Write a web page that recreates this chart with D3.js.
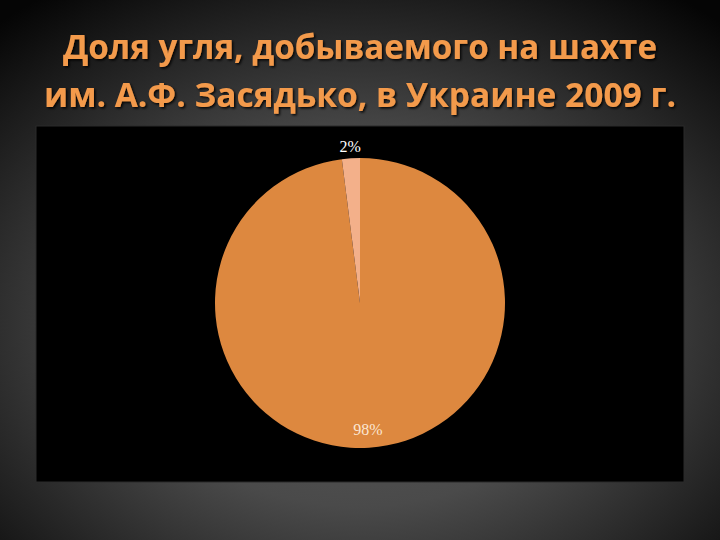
<!DOCTYPE html>
<html lang="ru">
  <head>
    <meta charset="UTF-8" />
    <title>Доля угля</title>
    <script src="https://d3js.org/d3.v7.min.js"></script>
    <style>
      body { margin: 0; background: #000; }
      svg { display: block; }
    </style>
  </head>
  <body>
    <div id="chart"></div>
    <script>
      // data
      const titleLines = [
        "Доля угля, добываемого на шахте",
        "им. А.Ф. Засядько, в Украине 2009 г.",
      ];
      const categories = ["Прочие шахты Украины", "Шахта им. А.Ф. Засядько"];
      const values = [98, 2];
      const colors = ["#dd883f", "#f3b08a"];

      const width = 720, height = 540;
      const svg = d3.select("#chart").append("svg")
        .attr("width", width).attr("height", height);

      const defs = svg.append("defs");
      const bg = defs.append("radialGradient")
        .attr("id", "bg").attr("cx", "50%").attr("cy", "60%").attr("r", "75%");
      bg.append("stop").attr("offset", "0%").attr("stop-color", "#5c5c5c");
      bg.append("stop").attr("offset", "45%").attr("stop-color", "#4a4a4a");
      bg.append("stop").attr("offset", "100%").attr("stop-color", "#050505");

      const shadow = defs.append("filter").attr("id", "shadow")
        .attr("x", "-5%").attr("y", "-20%").attr("width", "110%").attr("height", "140%");
      shadow.append("feDropShadow")
        .attr("dx", 1.5).attr("dy", 1.5).attr("stdDeviation", 1)
        .attr("flood-color", "#000").attr("flood-opacity", 0.9);

      svg.append("rect").attr("width", width).attr("height", height).attr("fill", "url(#bg)");

      // title: narrow font look, stretched a bit vertically
      const titleWidths = [594, 632];
      const titleBase = [59, 107];
      const sy = 1.12;
      svg.append("g")
        .attr("filter", "url(#shadow)")
        .selectAll("text")
        .data(titleLines)
        .join("text")
        .attr("transform", (d, i) => `translate(${width / 2},${titleBase[i]}) scale(1,${sy})`)
        .attr("text-anchor", "middle")
        .attr("textLength", (d, i) => titleWidths[i])
        .attr("lengthAdjust", "spacingAndGlyphs")
        .style("font-family", "'Open Sans', 'Noto Sans', sans-serif")
        .style("font-weight", "bold")
        .style("font-size", "31px")
        .style("fill", "#f39a4c")
        .text((d) => d);

      // chart area
      svg.append("rect")
        .attr("x", 36).attr("y", 126).attr("width", 648).attr("height", 356)
        .attr("fill", "#000").attr("stroke", "#2a2a2a").attr("stroke-width", 1);

      const cx = 360, cy = 303, r = 145;
      const g = svg.append("g").attr("transform", `translate(${cx},${cy})`);

      const pie = d3.pie().sort(null).value((d) => d)(values);
      const arc = d3.arc().innerRadius(0).outerRadius(r);

      g.selectAll("path")
        .data(pie)
        .join("path")
        .attr("d", arc)
        .attr("fill", (d, i) => colors[i]);

      const labelRadius = [127, 157];
      g.selectAll("text.lbl")
        .data(pie)
        .join("text")
        .attr("class", "lbl")
        .attr("transform", (d, i) => {
          const a = (d.startAngle + d.endAngle) / 2;
          const lr = labelRadius[i];
          return `translate(${lr * Math.sin(a)},${-lr * Math.cos(a)})`;
        })
        .attr("dy", "0.35em")
        .attr("text-anchor", "middle")
        .style("font-family", "'Liberation Serif', 'DejaVu Serif', serif")
        .style("font-size", "16px")
        .style("fill", (d, i) => (i === 0 ? "#fbe6d2" : "#ffffff"))
        .text((d) => Math.round((d.value / d3.sum(values)) * 100) + "%");
    </script>
  </body>
</html>
